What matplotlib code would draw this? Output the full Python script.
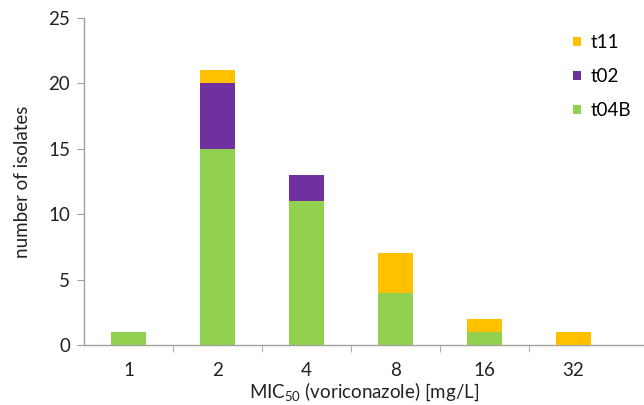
import matplotlib
matplotlib.use("Agg")
import matplotlib.pyplot as plt
from matplotlib.ticker import FixedLocator

categories = ["1", "2", "4", "8", "16", "32"]
t04B = [1, 15, 11, 4, 1, 0]
t02 = [0, 5, 2, 0, 0, 0]
t11 = [0, 1, 0, 3, 1, 1]

plt.rcParams['font.family'] = ['Lato', 'DejaVu Sans']
plt.rcParams['mathtext.fontset'] = 'custom'
plt.rcParams['mathtext.rm'] = 'Lato'
plt.rcParams['mathtext.it'] = 'Lato:italic'
plt.rcParams['mathtext.bf'] = 'Lato:bold'

fig = plt.figure(figsize=(6.44, 4.05), dpi=100)
W, H = 644, 405
ax = fig.add_axes([84 / W, (H - 345) / H, 560 / W, 327 / H])

green = "#92D050"
purple = "#7030A0"
orange = "#FFC000"
txt = "#222222"
fs = 13.5

x = list(range(len(categories)))
bottom2 = [a for a in t04B]
bottom3 = [a + b for a, b in zip(t04B, t02)]
ax.bar(x, t04B, width=0.4, color=green, label="t04B", zorder=3)
ax.bar(x, t02, width=0.4, bottom=bottom2, color=purple, label="t02", zorder=3)
ax.bar(x, t11, width=0.4, bottom=bottom3, color=orange, label="t11", zorder=3)

ax.set_xlim(-0.5, -0.5 + 560 / 89)
ax.set_ylim(0, 25)
ax.set_yticks([0, 5, 10, 15, 20, 25])
ax.set_xticks(x)
ax.set_xticklabels(categories)
ax.xaxis.set_minor_locator(FixedLocator([0.5, 1.5, 2.5, 3.5, 4.5]))
ax.tick_params(axis='x', which='major', length=0, pad=12, labelsize=fs, colors=txt)
ax.tick_params(axis='x', which='minor', length=5, color="#A0A0A0", direction='out')
ax.tick_params(axis='y', length=5, color="#A0A0A0", direction='out', labelsize=fs, labelcolor=txt, pad=5)

for s in ["top", "right"]:
    ax.spines[s].set_visible(False)
for s in ["left", "bottom"]:
    ax.spines[s].set_color("#A0A0A0")
    ax.spines[s].set_linewidth(1.0)

ax.set_ylabel("number of isolates", fontsize=fs, color=txt, labelpad=12)
ax.set_xlabel("MIC$_{50}$ (voriconazole) [mg/L]", fontsize=fs, color=txt, labelpad=1)

handles, labels = ax.get_legend_handles_labels()
leg = ax.legend(handles[::-1], labels[::-1], loc="upper right", bbox_to_anchor=(1.0, 0.99),
                frameon=False, fontsize=fs, handlelength=0.4, handleheight=0.4,
                handletextpad=0.5, labelspacing=0.9, borderaxespad=0.3)

fig.savefig("out.png", dpi=100)
